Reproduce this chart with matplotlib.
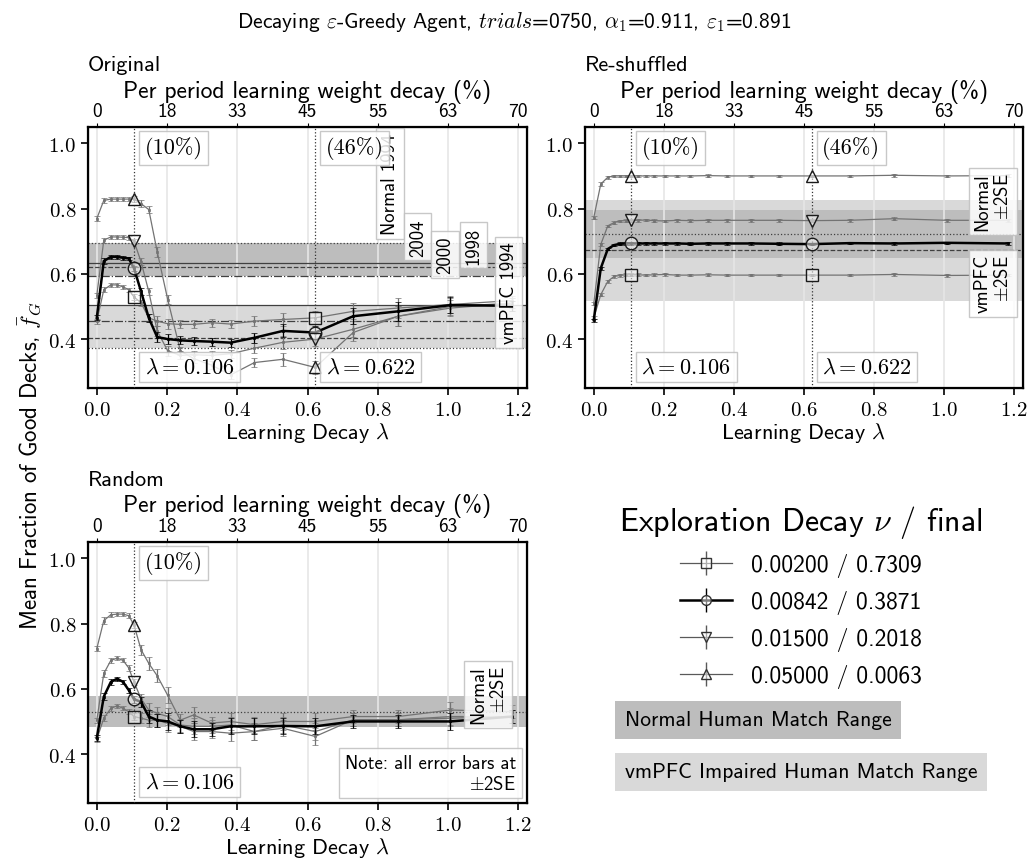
import matplotlib.pyplot as plt
import numpy as np
from matplotlib.ticker import FuncFormatter, FixedLocator
from matplotlib.transforms import blended_transform_factory

plt.rcParams['font.family'] = ['cmss10', 'DejaVu Sans']
plt.rcParams['mathtext.fontset'] = 'cm'
plt.rcParams['axes.unicode_minus'] = False

# learning decay grid
lam = [0.0, 0.02, 0.04, 0.058, 0.075, 0.091, 0.106, 0.126, 0.148, 0.172, 0.202,
       0.238, 0.276, 0.327, 0.381, 0.449, 0.530, 0.622, 0.730, 0.858, 1.007, 1.183]
lam_ticks = [0.0, 0.2, 0.4, 0.6, 0.8, 1.0, 1.2]
pct_labels = ['0', '18', '33', '45', '55', '63', '70']
marked_lam = [0.106, 0.622]
marked_pct = ['(10%)', '(46%)']

nu_labels = ['0.00200 / 0.7309', '0.00842 / 0.3871', '0.01500 / 0.2018', '0.05000 / 0.0063']
nu_markers = ['s', 'o', 'v', '^']

# Original
orig_sq = [0.455, 0.551, 0.566, 0.566, 0.560, 0.551, 0.529, 0.511, 0.465, 0.455, 0.447,
           0.445, 0.445, 0.450, 0.446, 0.455, 0.460, 0.465, 0.485, 0.495, 0.506, 0.518]
orig_ci = [0.465, 0.639, 0.652, 0.652, 0.649, 0.647, 0.617, 0.546, 0.465, 0.406, 0.400,
           0.396, 0.394, 0.392, 0.389, 0.404, 0.425, 0.420, 0.470, 0.485, 0.504, 0.502]
orig_dn = [0.533, 0.703, 0.713, 0.713, 0.712, 0.711, 0.700, 0.637, 0.546, 0.425, 0.364,
           0.350, 0.352, 0.350, 0.355, 0.372, 0.390, 0.400, 0.430, 0.470, 0.495, 0.510]
orig_up = [0.769, 0.825, 0.829, 0.829, 0.829, 0.829, 0.829, 0.815, 0.797, 0.668, 0.521,
           0.364, 0.340, 0.320, 0.290, 0.328, 0.338, 0.313, 0.420, 0.470, 0.500, 0.510]
orig_err = [0.008, 0.008, 0.006, 0.006, 0.006, 0.006, 0.008, 0.010, 0.012, 0.015, 0.015,
            0.012, 0.012, 0.012, 0.012, 0.015, 0.020, 0.020, 0.025, 0.030, 0.025, 0.015]

# Re-shuffled
shuf_sq = [0.465, 0.536, 0.577, 0.592, 0.595, 0.597, 0.597, 0.597, 0.596, 0.597, 0.598,
           0.596, 0.596, 0.597, 0.596, 0.596, 0.596, 0.596, 0.596, 0.598, 0.595, 0.596]
shuf_ci = [0.458, 0.617, 0.676, 0.688, 0.692, 0.693, 0.693, 0.693, 0.693, 0.693, 0.693,
           0.693, 0.692, 0.693, 0.693, 0.693, 0.692, 0.691, 0.694, 0.693, 0.695, 0.693]
shuf_dn = [0.508, 0.690, 0.747, 0.757, 0.762, 0.763, 0.764, 0.764, 0.765, 0.763, 0.762,
           0.764, 0.763, 0.764, 0.764, 0.764, 0.764, 0.763, 0.764, 0.769, 0.764, 0.764]
shuf_up = [0.772, 0.875, 0.896, 0.900, 0.900, 0.900, 0.900, 0.900, 0.900, 0.900, 0.900,
           0.900, 0.900, 0.901, 0.900, 0.900, 0.900, 0.900, 0.900, 0.902, 0.900, 0.901]
shuf_err = [0.005, 0.005, 0.004, 0.004, 0.004, 0.004, 0.004, 0.004, 0.004, 0.004, 0.004,
            0.004, 0.004, 0.004, 0.004, 0.004, 0.004, 0.004, 0.004, 0.004, 0.004, 0.004]

# Random
rand_sq = [0.445, 0.510, 0.540, 0.548, 0.540, 0.530, 0.515, 0.510, 0.504, 0.504, 0.494,
           0.485, 0.469, 0.469, 0.464, 0.469, 0.479, 0.454, 0.505, 0.505, 0.510, 0.515]
rand_ci = [0.449, 0.576, 0.621, 0.631, 0.621, 0.596, 0.568, 0.560, 0.515, 0.504, 0.500,
           0.485, 0.476, 0.476, 0.485, 0.485, 0.486, 0.485, 0.500, 0.500, 0.500, 0.515]
rand_dn = [0.503, 0.647, 0.687, 0.694, 0.687, 0.664, 0.621, 0.570, 0.535, 0.525, 0.515,
           0.489, 0.485, 0.485, 0.489, 0.469, 0.489, 0.469, 0.505, 0.505, 0.515, 0.515]
rand_up = [0.723, 0.809, 0.827, 0.829, 0.829, 0.824, 0.796, 0.720, 0.678, 0.640, 0.580,
           0.504, 0.520, 0.495, 0.500, 0.490, 0.500, 0.500, 0.515, 0.515, 0.535, 0.530]
rand_err = [0.008, 0.010, 0.008, 0.006, 0.006, 0.008, 0.010, 0.015, 0.020, 0.020, 0.025,
            0.020, 0.025, 0.020, 0.025, 0.025, 0.025, 0.025, 0.020, 0.020, 0.025, 0.020]

# human study values (Original)
study_years = ['1994', '2004', '1998', '2000']
study_styles = [':', '-', '--', '-.']
normal_study = [0.693, 0.632, 0.622, 0.592]
vmpfc_study = [0.374, 0.504, 0.404, 0.455]

# human mean +/- 2SE (Re-shuffled, Random)
shuf_normal = (0.722, 0.075)
shuf_vmpfc = (0.672, 0.155)
rand_normal = (0.530, 0.047)

DARK = '#bdbdbd'
LIGHT = '#d9d9d9'
box = dict(boxstyle='square,pad=0.25', fc='white', ec='0.75', alpha=0.85)

W, H = 1028, 862
fig = plt.figure(figsize=(W / 100, H / 100), dpi=100)


def make_ax(l, t, r, b):
    return fig.add_axes([l / W, (H - b) / H, (r - l) / W, (b - t) / H])


def style_ax(ax, title):
    ax.set_xlim(-0.025, 1.225)
    ax.set_ylim(0.25, 1.05)
    ax.set_axisbelow(True)
    ax.xaxis.set_major_locator(FixedLocator(lam_ticks))
    ax.yaxis.set_major_locator(FixedLocator([0.4, 0.6, 0.8, 1.0]))
    fmt = FuncFormatter(lambda v, p: f'${v:.1f}$')
    ax.xaxis.set_major_formatter(fmt)
    ax.yaxis.set_major_formatter(fmt)
    ax.tick_params(labelsize=15, length=5, width=1.2)
    ax.grid(axis='x', color='0.9', lw=1.2)
    for s in ax.spines.values():
        s.set_linewidth(1.6)
    ax.set_xlabel(r'Learning Decay $\lambda$', fontsize=16, labelpad=1)
    top = ax.twiny()
    top.set_xlim(ax.get_xlim())
    top.set_xticks(lam_ticks)
    top.set_xticklabels(pct_labels)
    top.tick_params(labelsize=14, length=3, pad=2)
    top.set_xlabel('Per period learning weight decay (%)', fontsize=17, labelpad=4)
    ax.set_title(title, loc='left', fontsize=16, pad=6)
    return top


def draw_series(ax, series, err, marks):
    for i, vals in enumerate(series):
        thick = i == 1
        c = 'k' if thick else '0.45'
        ax.errorbar(lam, vals, yerr=err, color=c, lw=1.8 if thick else 0.9,
                    marker='s', ms=2, mew=0.5, capsize=2, elinewidth=0.9,
                    zorder=5 if thick else 4)
        idx = [lam.index(m) for m in marks]
        ax.plot([lam[j] for j in idx], [vals[j] for j in idx], ls='none',
                marker=nu_markers[i], ms=9, mfc=(1, 1, 1, 0.5), mec='0.1',
                mew=1.0, zorder=7)
    tr = blended_transform_factory(ax.transData, ax.transAxes)
    for m, p in zip(marks, marked_pct):
        ax.axvline(m, color='0.2', ls=':', lw=0.9, zorder=3)
        ax.text(m + 0.03, 0.92, p, transform=tr, fontsize=16, va='center',
                fontname='cmr10', bbox=box, zorder=9)
        ax.text(m + 0.03, 0.08, rf'$\lambda = {m:.3f}$', transform=tr,
                fontsize=16, va='center', bbox=box, zorder=9)


# ---- Original
ax1 = make_ax(88, 128, 527, 389)
style_ax(ax1, 'Original')
ax1.axhspan(min(normal_study), max(normal_study), color=DARK, lw=0, zorder=0.2)
ax1.axhspan(min(vmpfc_study), max(vmpfc_study), color=LIGHT, lw=0, zorder=0.2)
for v, ls in zip(normal_study, study_styles):
    ax1.axhline(v, color='0.25', ls=ls, lw=0.9, zorder=2)
for v, ls in zip(vmpfc_study, study_styles):
    ax1.axhline(v, color='0.25', ls=ls, lw=0.9, zorder=2)
draw_series(ax1, [orig_sq, orig_ci, orig_dn, orig_up], orig_err, marked_lam)
study_label_pos = [(0.835, 0.722), (0.914, 0.656), (1.073, 0.631), (0.992, 0.601)]
for yr, (x, y) in zip(study_years, study_label_pos):
    txt = 'Normal ' + yr if yr == study_years[0] else yr
    ax1.text(x, y, txt, rotation=90, ha='center', va='bottom', fontsize=13.5,
             bbox=box, zorder=8)
ax1.text(1.173, 0.388, 'vmPFC ' + study_years[0], rotation=90, ha='center',
         va='bottom', fontsize=13.5, bbox=box, zorder=8)

# ---- Re-shuffled
ax2 = make_ax(585, 128, 1023, 389)
style_ax(ax2, 'Re-shuffled')
m, se = shuf_vmpfc
ax2.axhspan(m - se, m + se, color=LIGHT, lw=0, zorder=0.1)
ax2.axhline(m, color='0.25', ls='--', lw=0.9, zorder=2)
ax2.text(1.195, m - 0.012, 'vmPFC\n$\\pm$2SE', rotation=90, ha='right', va='top',
         multialignment='right', fontsize=13.5, bbox=box, zorder=8)
m, se = shuf_normal
ax2.axhspan(m - se, m + se, color=DARK, lw=0, zorder=0.2)
ax2.axhline(m, color='0.25', ls=':', lw=0.9, zorder=2)
ax2.text(1.195, m + 0.012, 'Normal\n$\\pm$2SE', rotation=90, ha='right', va='bottom',
         multialignment='right', fontsize=13.5, bbox=box, zorder=8)
draw_series(ax2, [shuf_sq, shuf_ci, shuf_dn, shuf_up], shuf_err, marked_lam)

# ---- Random
ax3 = make_ax(88, 543, 527, 804)
style_ax(ax3, 'Random')
m, se = rand_normal
ax3.axhspan(m - se, m + se, color=DARK, lw=0, zorder=0.2)
ax3.axhline(m, color='0.25', ls=':', lw=0.9, zorder=2)
ax3.text(1.17, m - se + 0.012, 'Normal\n$\\pm$2SE', rotation=90, ha='right', va='bottom',
         multialignment='right', fontsize=13.5, bbox=box, zorder=8)
draw_series(ax3, [rand_sq, rand_ci, rand_dn, rand_up], rand_err, marked_lam[:1])
ax3.text(0.975, 0.04, 'Note: all error bars at\n$\\pm$2SE', transform=ax3.transAxes,
         ha='right', va='bottom', multialignment='right', fontsize=13.5,
         bbox=dict(boxstyle='square,pad=0.3', fc='white', ec='0.75', alpha=0.85), zorder=9)

# ---- shared labels
fig.text(30 / W, 1 - 466 / H, r'Mean Fraction of Good Decks, $\bar{f}_G$', rotation=90,
         ha='center', va='center', fontsize=16.5)
fig.suptitle(r'Decaying $\varepsilon$-Greedy Agent, $trials$=0750, $\alpha_1$=0.911, '
             r'$\varepsilon_1$=0.891', y=1 - 22 / H, fontsize=15.5, va='center')

# ---- legend
handles = []
for i, mk in enumerate(nu_markers):
    thick = i == 1
    h = ax3.errorbar([], [], yerr=[], color='k' if thick else '0.35',
                     lw=1.8 if thick else 0.9, marker=mk, ms=7,
                     mfc=(1, 1, 1, 0.5), mec='0.2', capsize=2, elinewidth=1.0)
    handles.append(h)
ax3.set_xlim(-0.025, 1.225)
ax3.set_ylim(0.25, 1.05)
fig.legend(handles, nu_labels, loc='upper center', bbox_to_anchor=(801 / W, 1 - 483 / H),
           frameon=False, title=r'Exploration Decay $\nu$ / final', fontsize=17,
           title_fontsize=23, handlelength=2.2, labelspacing=0.55, handletextpad=0.8)
fig.text(625 / W, 1 - 721 / H, 'Normal Human Match Range', fontsize=15.5, va='center',
         bbox=dict(boxstyle='square,pad=0.45', fc=DARK, ec='none'))
fig.text(625 / W, 1 - 773 / H, 'vmPFC Impaired Human Match Range', fontsize=15.5,
         va='center', bbox=dict(boxstyle='square,pad=0.45', fc=LIGHT, ec='none'))

fig.savefig('out.png', dpi=100)
